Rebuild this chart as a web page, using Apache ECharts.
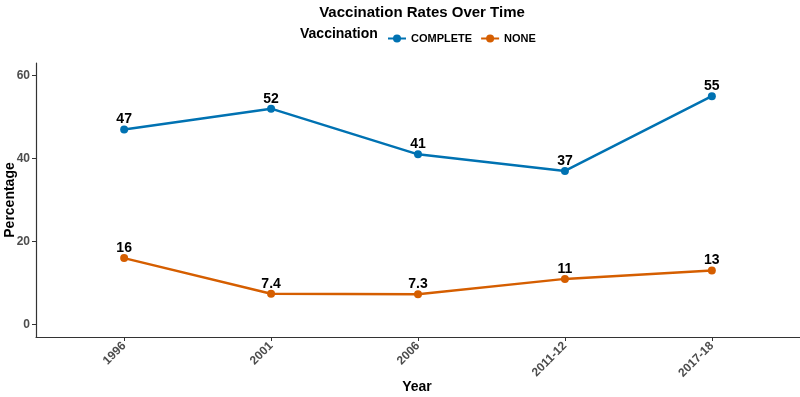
<!DOCTYPE html>
<html>
<head>
    <meta charset="utf-8">
    <title>Vaccination Rates Over Time</title>
    <script src="https://cdn.jsdelivr.net/npm/echarts@6.0.0/dist/echarts.min.js"></script>
    <style>
        html, body { margin: 0; padding: 0; background: #fff; }
        #main { width: 800px; height: 397px; }
    </style>
</head>
<body>
    <div id="main"></div>
    <script>
        var years = ['1996', '2001', '2006', '2011-12', '2017-18'];
        var complete = [47, 52, 41, 37, 55];
        var none = [16, 7.4, 7.3, 11, 13];
        var yTicks = [0, 20, 40, 60];

        var FONT = '"Liberation Sans", Arial, sans-serif';
        var chart = echarts.init(document.getElementById('main'));

        function pairs(vals) {
            return vals.map(function (v, i) { return [i, v]; });
        }

        function lineSeries(name, vals, color) {
            return {
                name: name,
                type: 'line',
                data: pairs(vals),
                symbol: 'circle',
                symbolSize: 8,
                lineStyle: { color: color, width: 2.5 },
                itemStyle: { color: color },
                label: {
                    show: true,
                    position: 'top',
                    distance: -1,
                    color: '#000',
                    fontWeight: 'bold',
                    fontSize: 14,
                    fontFamily: FONT,
                    formatter: function (p) { return p.value[1]; }
                }
            };
        }

        var idx = years.map(function (y, i) { return i; });

        chart.setOption({
            animation: false,
            title: {
                text: 'Vaccination Rates Over Time',
                left: 417,
                top: 0,
                textAlign: 'center',
                textStyle: { fontFamily: FONT, fontWeight: 'bold', fontSize: 15, color: '#000' }
            },
            legend: {
                data: ['COMPLETE', 'NONE'],
                left: 382,
                top: 28,
                itemWidth: 18,
                itemHeight: 10,
                itemGap: 8,
                textStyle: { fontFamily: FONT, fontWeight: 'bold', fontSize: 11, color: '#000' }
            },
            graphic: [
                {
                    type: 'text', left: 300, top: 27,
                    style: { text: 'Vaccination', font: 'bold 14px ' + FONT, fill: '#000' }
                },
                {
                    type: 'text', x: 417, y: 387,
                    style: { text: 'Year', font: 'bold 14px ' + FONT, fill: '#000', align: 'center', verticalAlign: 'middle' }
                },
                {
                    type: 'text', x: 10, y: 200, rotation: Math.PI / 2,
                    style: { text: 'Percentage', font: 'bold 14px ' + FONT, fill: '#000', align: 'center', verticalAlign: 'middle' }
                }
            ],
            grid: { left: 36, right: 0, top: 63, bottom: 60 },
            xAxis: {
                type: 'value',
                min: -0.6,
                max: 4.6,
                splitLine: { show: false },
                axisLine: { show: true, onZero: false, lineStyle: { color: '#333', width: 1.2 } },
                axisTick: { show: true, customValues: idx, length: 4, lineStyle: { color: '#333' } },
                axisLabel: {
                    customValues: idx,
                    rotate: 45,
                    margin: 7,
                    color: '#4d4d4d',
                    fontWeight: 'bold',
                    fontSize: 12,
                    fontFamily: FONT,
                    formatter: function (v) { return years[Math.round(v)]; }
                }
            },
            yAxis: {
                type: 'value',
                min: -3,
                max: 63,
                splitLine: { show: false },
                axisLine: { show: true, onZero: false, lineStyle: { color: '#333', width: 1.2 } },
                axisTick: { show: true, customValues: yTicks, length: 4, lineStyle: { color: '#333' } },
                axisLabel: {
                    customValues: yTicks,
                    margin: 6,
                    color: '#4d4d4d',
                    fontWeight: 'bold',
                    fontSize: 12,
                    fontFamily: FONT
                }
            },
            series: [
                lineSeries('COMPLETE', complete, '#0072B2'),
                lineSeries('NONE', none, '#D55E00')
            ]
        });
    </script>
</body>
</html>
